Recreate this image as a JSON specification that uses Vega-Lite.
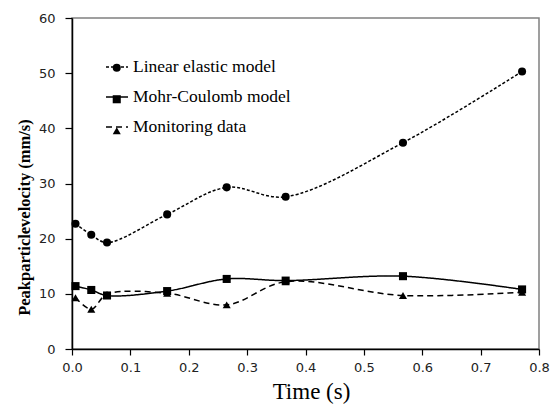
{
  "$schema": "https://vega.github.io/schema/vega-lite/v6.json",
  "width": 467,
  "height": 331,
  "autosize": "none",
  "padding": {"left": 72, "top": 18, "right": 11, "bottom": 56},
  "background": "white",
  "config": {
    "view": {"stroke": "#808080", "strokeWidth": 1.5},
    "legend": {"padding": 0},
    "axis": {
      "grid": false,
      "labelFlush": false,
      "domainColor": "black",
      "domainWidth": 1.5,
      "tickColor": "black",
      "tickWidth": 1.2,
      "labelFont": "DejaVu Sans",
      "labelFontSize": 13,
      "labelColor": "#222",
      "titleColor": "black"
    }
  },
  "data": {
    "values": [
      {"series": "Linear elastic model", "t": 0.006, "v": 22.7},
      {"series": "Linear elastic model", "t": 0.033, "v": 20.7},
      {"series": "Linear elastic model", "t": 0.06, "v": 19.3},
      {"series": "Linear elastic model", "t": 0.163, "v": 24.4},
      {"series": "Linear elastic model", "t": 0.265, "v": 29.3},
      {"series": "Linear elastic model", "t": 0.366, "v": 27.6},
      {"series": "Linear elastic model", "t": 0.567, "v": 37.4},
      {"series": "Linear elastic model", "t": 0.771, "v": 50.3},
      {"series": "Mohr-Coulomb model", "t": 0.006, "v": 11.4},
      {"series": "Mohr-Coulomb model", "t": 0.033, "v": 10.7},
      {"series": "Mohr-Coulomb model", "t": 0.06, "v": 9.7},
      {"series": "Mohr-Coulomb model", "t": 0.163, "v": 10.5},
      {"series": "Mohr-Coulomb model", "t": 0.265, "v": 12.7},
      {"series": "Mohr-Coulomb model", "t": 0.366, "v": 12.4},
      {"series": "Mohr-Coulomb model", "t": 0.567, "v": 13.2},
      {"series": "Mohr-Coulomb model", "t": 0.771, "v": 10.8},
      {"series": "Monitoring data", "t": 0.006, "v": 9.3},
      {"series": "Monitoring data", "t": 0.033, "v": 7.2},
      {"series": "Monitoring data", "t": 0.06, "v": 9.9},
      {"series": "Monitoring data", "t": 0.163, "v": 10.1},
      {"series": "Monitoring data", "t": 0.265, "v": 8.0},
      {"series": "Monitoring data", "t": 0.366, "v": 12.2},
      {"series": "Monitoring data", "t": 0.567, "v": 9.7},
      {"series": "Monitoring data", "t": 0.771, "v": 10.3}
    ]
  },
  "encoding": {
    "x": {
      "field": "t", "type": "quantitative",
      "scale": {"domain": [0, 0.8], "nice": false},
      "axis": {
        "values": [0, 0.1, 0.2, 0.3, 0.4, 0.5, 0.6, 0.7, 0.8],
        "format": ".1f",
        "title": "Time (s)",
        "titleFont": "Liberation Serif",
        "titleFontSize": 23,
        "titleFontWeight": "normal",
        "titlePadding": 6,
        "titleX": 239,
        "tickSize": 6,
        "labelPadding": 6
      }
    },
    "y": {
      "field": "v", "type": "quantitative",
      "scale": {"domain": [0, 60], "nice": false},
      "axis": {
        "values": [0, 10, 20, 30, 40, 50, 60],
        "title": "Peakparticlevelocity (mm/s)",
        "titleFont": "Liberation Serif",
        "titleFontSize": 16.5,
        "titleFontWeight": "bold",
        "titlePadding": 6,
        "titleY": 199,
        "tickSize": 7,
        "labelPadding": 10
      }
    }
  },
  "layer": [
    {
      "mark": {"type": "line", "interpolate": "catmull-rom", "color": "black", "strokeWidth": 1.5},
      "encoding": {
        "detail": {"field": "series"},
        "strokeDash": {
          "field": "series", "type": "nominal",
          "scale": {
            "domain": ["Linear elastic model", "Mohr-Coulomb model", "Monitoring data"],
            "range": [[3, 2], [1, 0], [6, 4]]
          },
          "legend": {
            "title": null,
            "orient": "none",
            "legendX": 33,
            "legendY": 37,
            "symbolType": "stroke",
            "symbolSize": 484,
            "symbolStrokeWidth": 1.5,
            "symbolStrokeColor": "black",
            "labelFont": "Liberation Serif",
            "labelFontSize": 17.5,
            "labelColor": "black",
            "labelOffset": 4,
            "rowPadding": 9
          }
        }
      }
    },
    {
      "mark": {"type": "point", "filled": true, "color": "black", "opacity": 1},
      "encoding": {
        "shape": {
          "field": "series", "type": "nominal",
          "scale": {
            "domain": ["Linear elastic model", "Mohr-Coulomb model", "Monitoring data"],
            "range": ["circle", "square", "triangle-up"]
          },
          "legend": {
            "title": " ",
            "titleFontSize": 4,
            "titlePadding": 1,
            "titleOpacity": 0,
            "orient": "top-left",
            "offset": 36,
            "symbolSize": 65,
            "symbolFillColor": "black",
            "symbolStrokeColor": "black",
            "symbolOpacity": 1,
            "labelFont": "Liberation Serif",
            "labelFontSize": 17.5,
            "labelExpr": "''",
            "rowPadding": 12.5
          }
        },
        "size": {"value": 65}
      }
    }
  ]
}
